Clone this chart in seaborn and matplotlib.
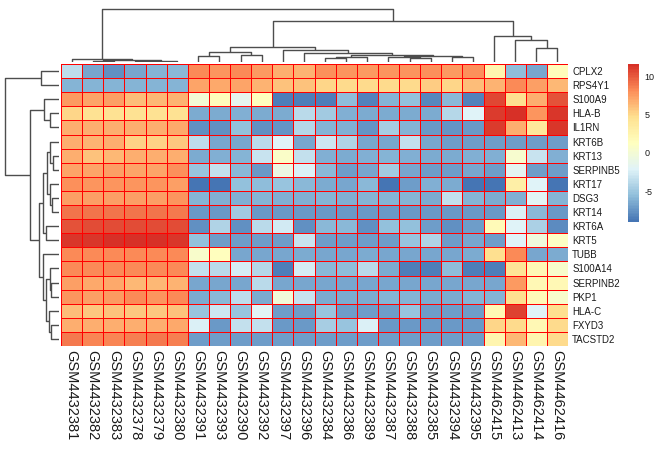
import numpy as np
import pandas as pd
import matplotlib
matplotlib.use('Agg')
import matplotlib.pyplot as plt
import seaborn as sns
from matplotlib.colors import LinearSegmentedColormap
from scipy.cluster import hierarchy

genes = ['CPLX2', 'RPS4Y1', 'S100A9', 'HLA-B', 'IL1RN', 'KRT6B', 'KRT13', 'SERPINB5',
         'KRT17', 'DSG3', 'KRT14', 'KRT6A', 'KRT5', 'TUBB', 'S100A14', 'SERPINB2',
         'PKP1', 'HLA-C', 'FXYD3', 'TACSTD2']

samples = ['GSM4432381', 'GSM4432382', 'GSM4432383', 'GSM4432378', 'GSM4432379',
           'GSM4432380', 'GSM4432391', 'GSM4432393', 'GSM4432390', 'GSM4432392',
           'GSM4432397', 'GSM4432396', 'GSM4432384', 'GSM4432386', 'GSM4432389',
           'GSM4432387', 'GSM4432388', 'GSM4432385', 'GSM4432394', 'GSM4432395',
           'GSM4462415', 'GSM4462413', 'GSM4462414', 'GSM4462416']

# one line per gene, values in sample order
values = [
    [-3.6, -6.6, -7.6, -6.7, -6.0, -5.8, 8.3, 7.8, 8.3, 7.6, 6.8, 6.5, 8.0, 7.6, 7.8, 7.8, 7.8, 7.6, 8.0, 7.9, 2.5, -5.6, -6.7, 1.6],
    [-6.1, -6.0, -6.0, -6.1, -6.0, -6.0, 7.1, 7.0, 7.1, 6.5, 5.9, 6.0, 5.1, 4.9, 4.9, 4.9, 5.0, 5.2, 6.1, 5.6, 6.5, 8.3, 7.4, 6.3],
    [7.6, 7.1, 7.4, 6.2, 6.3, 6.5, 0.0, 1.6, -1.4, 1.5, -8.5, -8.5, -8.5, -8.3, -6.0, -5.5, -5.3, -5.8, -8.3, -8.1, 10.7, 4.8, 6.8, 10.2],
    [5.1, 4.4, 4.5, 4.5, 4.5, 4.5, -6.4, -6.5, -6.3, -6.4, -6.5, -3.7, -4.7, -6.5, -6.4, -6.2, -6.4, -4.0, -2.2, -6.4, 11.0, 11.6, 7.8, 11.2],
    [6.8, 6.8, 6.8, 6.8, 6.8, 6.9, -7.6, -7.6, -5.3, -7.6, -7.5, -4.0, -6.0, -7.5, -4.6, -6.3, -6.0, -7.5, -7.3, -7.3, 11.0, 6.8, 3.8, 11.2],
    [6.8, 6.6, 6.8, 5.4, 5.3, 5.7, -3.6, -6.7, -6.6, -3.8, -2.0, -6.7, -3.0, -6.6, -6.6, -4.2, -3.4, -7.1, -7.1, -6.7, -7.1, -7.0, -7.0, -7.0],
    [6.8, 6.0, 6.3, 6.8, 6.7, 6.7, -6.4, -6.3, -6.1, -3.2, 0.7, -3.3, -6.3, -6.3, -6.0, -6.5, -6.3, -6.5, -6.3, -6.5, -6.3, 0.4, -3.2, -6.3],
    [7.1, 7.1, 7.3, 7.2, 7.2, 7.9, -5.1, -3.3, -5.8, -7.2, -0.8, -2.4, -5.8, -6.7, -4.8, -7.1, -6.7, -7.1, -6.7, -7.1, -7.1, -1.6, -7.1, -7.1],
    [7.9, 7.8, 7.8, 7.8, 7.8, 7.4, -8.8, -9.0, -5.3, -5.5, -5.2, -5.8, -6.4, -5.8, -8.8, -6.6, -7.1, -6.5, -8.8, -6.3, -8.8, 3.0, -2.1, -8.8],
    [7.4, 7.3, 7.3, 7.3, 7.3, 7.8, -6.0, -6.2, -6.3, -6.1, -6.3, -6.2, -6.1, -6.1, -6.1, -6.3, -6.1, -3.4, -6.1, -6.5, -6.5, -6.2, -1.8, -6.0],
    [9.0, 9.0, 9.0, 9.1, 9.0, 8.9, -7.2, -7.2, -4.8, -7.2, -7.2, -7.2, -7.2, -7.2, -7.2, -7.2, -7.2, -7.2, -7.2, -7.2, -7.2, -2.4, -5.8, -7.2],
    [10.2, 10.4, 10.4, 10.4, 10.4, 10.4, -7.6, -4.2, -7.6, -3.8, -2.7, -7.6, -5.8, -7.6, -5.3, -5.8, -5.3, -7.6, -7.1, -7.1, 1.8, -2.1, -4.3, -7.8],
    [11.3, 11.3, 11.5, 11.5, 11.5, 11.3, -5.3, -7.1, -7.1, -7.1, -7.1, -3.2, -7.1, -7.1, -7.1, -7.1, -5.2, -7.1, -6.7, -4.2, -7.1, -2.1, -0.4, 1.0],
    [8.3, 8.1, 8.1, 8.1, 8.2, 8.3, 0.5, 1.4, -6.7, -6.6, -6.6, -6.5, -6.6, -6.5, -6.6, -6.6, -6.6, -6.6, -6.5, -6.6, 4.8, 8.2, -6.6, -6.5],
    [8.1, 8.1, 8.1, 8.1, 8.1, 8.1, -3.3, -3.7, -2.6, -3.9, -8.5, -2.5, -5.8, -3.7, -6.4, -5.5, -8.5, -5.5, -8.5, -8.5, -8.5, 4.3, 2.0, 0.6],
    [7.3, 7.0, 7.0, 6.4, 6.4, 6.5, -6.7, -6.7, -6.7, -3.7, -6.7, -6.7, -6.7, -6.7, -6.7, -6.7, -6.7, -6.7, -6.7, -6.7, -6.7, 7.6, 2.0, 2.0],
    [7.8, 7.3, 7.6, 8.1, 7.8, 8.1, -6.5, -5.9, -3.6, -6.4, -0.2, -3.2, -6.5, -6.5, -6.1, -6.5, -6.1, -6.5, -6.1, -6.5, -6.1, 4.6, 1.8, 0.6],
    [6.1, 5.8, 5.9, 5.8, 5.8, 6.0, -5.1, -2.9, -5.1, -1.8, -7.1, -7.1, -5.1, -7.1, -7.1, -7.1, -5.1, -7.1, -7.1, -7.1, 2.0, 10.8, -2.1, 4.6],
    [6.8, 6.8, 6.8, 6.8, 6.8, 7.0, -2.4, -7.3, -3.4, -3.4, -7.3, -7.3, -4.6, -2.4, -7.3, -5.1, -7.3, -7.3, -7.3, -7.3, 5.1, 4.9, 2.0, 4.9],
    [8.8, 8.5, 8.4, 8.6, 8.8, 8.6, -7.1, -7.1, -7.1, -7.1, -7.1, -7.1, -7.1, -7.1, -7.1, -7.1, -7.1, -7.1, -7.1, -7.1, 2.5, 6.3, 2.5, 4.9],
]

# pheatmap default palette: rev(brewer.pal(7, "RdYlBu")) -> 100 colours
palette = ['#4575B4', '#91BFDB', '#E0F3F8', '#FFFFBF', '#FEE090', '#FC8D59', '#D73027']


def ordered_linkage(mat):
    # complete / euclidean like hclust, children flipped so leaves keep the given order
    Z = hierarchy.linkage(mat, method='complete', metric='euclidean')
    n = mat.shape[0]
    first = list(range(n))
    for i in range(len(Z)):
        a, b = int(Z[i, 0]), int(Z[i, 1])
        if first[a] > first[b]:
            Z[i, 0], Z[i, 1] = b, a
        first.append(min(first[a], first[b]))
    return Z


df = pd.DataFrame(values, index=genes, columns=samples)
cmap = LinearSegmentedColormap.from_list('pheat', palette, N=100)

plt.rcParams['font.family'] = ['Liberation Sans', 'DejaVu Sans']
plt.rcParams['axes.unicode_minus'] = False

g = sns.clustermap(df, row_linkage=ordered_linkage(df.values),
                   col_linkage=ordered_linkage(df.values.T),
                   cmap=cmap, linewidths=0.7, linecolor='#ff0000',
                   figsize=(6.66, 4.51),
                   tree_kws={'colors': '#4d4d4d', 'linewidths': 1.0},
                   cbar_kws={'ticks': [-5, 0, 5, 10]})

W, H = 666, 451
g.ax_heatmap.set_position([61 / W, 1 - 346 / H, 507 / W, 282 / H])
g.ax_col_dendrogram.set_position([61 / W, 1 - 62 / H, 507 / W, 56 / H])
g.ax_row_dendrogram.set_position([2 / W, 1 - 346 / H, 57 / W, 282 / H])
g.ax_cbar.set_position([628 / W, 1 - 222 / H, 11 / W, 158 / H])

ax = g.ax_heatmap
ax.set_xlabel('')
ax.set_ylabel('')
ax.set_xticks(np.arange(len(samples)) + 0.5)
ax.set_xticklabels(samples, rotation=270, fontsize=10.5, color='#1a1a1a')
ax.set_yticks(np.arange(len(genes)) + 0.5)
ax.set_yticklabels(genes, rotation=0, fontsize=7, color='#1a1a1a')
ax.tick_params(axis='both', length=0, pad=3)

cbar = ax.collections[0].colorbar
cbar.outline.set_visible(False)
cbar.ax.tick_params(length=0, labelsize=6.5, pad=4, colors='#1a1a1a')

g.figure.savefig('out.png', dpi=100)
